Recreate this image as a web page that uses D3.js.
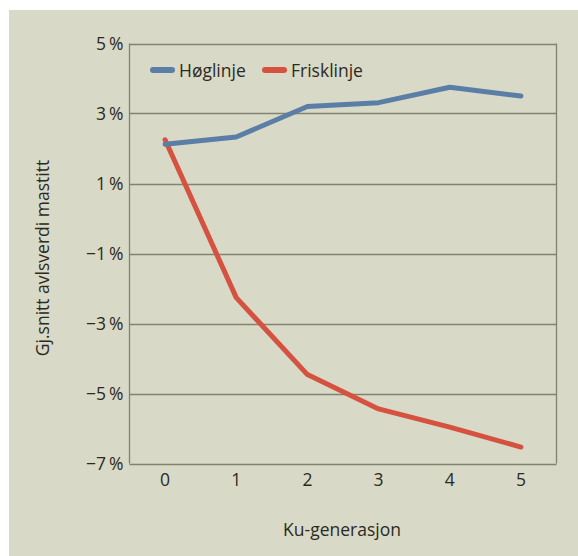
<!DOCTYPE html>
<html>
<head>
<meta charset="utf-8">
<script src="https://cdn.jsdelivr.net/npm/d3@7"></script>
<style>
  html, body { margin: 0; padding: 0; background: #ffffff; }
  svg text { font-family: "Open Sans", "Noto Sans", sans-serif; fill: #2b2a22; }
</style>
</head>
<body>
<div id="chart"></div>
<script>

//--- Data ------------------------------------------------------------------------------ //

var generations = [0, 1, 2, 3, 4, 5];
var hoeglinje   = [2.12, 2.33, 3.2, 3.31, 3.75, 3.5];
var frisklinje  = [2.25, -2.26, -4.46, -5.44, -5.96, -6.53];
var yTicks      = [5, 3, 1, -1, -3, -5, -7];
var seriesNames = ['Høglinje', 'Frisklinje'];
var seriesColors = ['#5a7ea6', '#d4523f'];


//--- Chart ------------------------------------------------------------------------------ //

function renderChart() {

    var width = 578, height = 556;
    var plot = { left: 129.5, right: 556.5, top: 43.5, bottom: 463.5 };
    var fs = 17.5;

    var svg = d3.select('#chart').append('svg')
        .attr('width', width)
        .attr('height', height);

    svg.append('rect')
        .attr('x', 9).attr('y', 10)
        .attr('width', width - 9).attr('height', height - 10)
        .attr('fill', '#d9d9c7');

    var x = d3.scaleLinear().domain([-0.5, 5.5]).range([plot.left, plot.right]);
    var y = d3.scaleLinear().domain([-7, 5]).range([plot.bottom, plot.top]);

    // gridlines
    svg.append('g').selectAll('line')
        .data(yTicks)
        .enter().append('line')
        .attr('x1', plot.left).attr('x2', plot.right)
        .attr('y1', function (d) { return Math.round(y(d)) + 0.5; })
        .attr('y2', function (d) { return Math.round(y(d)) + 0.5; })
        .attr('stroke', '#80836d')
        .attr('stroke-width', 1.3);

    // frame sides
    svg.append('line')
        .attr('x1', plot.left).attr('x2', plot.left)
        .attr('y1', plot.top).attr('y2', plot.bottom)
        .attr('stroke', '#80836d').attr('stroke-width', 1.3);
    svg.append('line')
        .attr('x1', plot.right).attr('x2', plot.right)
        .attr('y1', plot.top).attr('y2', plot.bottom)
        .attr('stroke', '#80836d').attr('stroke-width', 1.3);

    // y tick labels
    svg.append('g').selectAll('text')
        .data(yTicks)
        .enter().append('text')
        .attr('x', plot.left - 6)
        .attr('y', function (d) { return y(d) + 6; })
        .attr('text-anchor', 'end')
        .attr('font-size', fs)
        .text(function (d) { return (d < 0 ? '\u2212' + Math.abs(d) : d) + '\u2009%'; });

    // x tick labels
    svg.append('g').selectAll('text')
        .data(generations)
        .enter().append('text')
        .attr('x', function (d) { return x(d); })
        .attr('y', 486)
        .attr('text-anchor', 'middle')
        .attr('font-size', fs)
        .text(function (d) { return d; });

    // axis titles
    svg.append('text')
        .attr('x', 342).attr('y', 536)
        .attr('text-anchor', 'middle')
        .attr('font-size', fs)
        .text('Ku-generasjon');

    svg.append('text')
        .attr('transform', 'translate(49,258) rotate(-90)')
        .attr('text-anchor', 'middle')
        .attr('font-size', fs)
        .text('Gj.snitt avlsverdi mastitt');

    // lines (red under blue)
    var line = d3.line()
        .x(function (d, i) { return x(generations[i]); })
        .y(function (d) { return y(d); });

    var allSeries = [hoeglinje, frisklinje];
    [1, 0].forEach(function (s) {
        svg.append('path')
            .datum(allSeries[s])
            .attr('d', line)
            .attr('fill', 'none')
            .attr('stroke', seriesColors[s])
            .attr('stroke-width', 5)
            .attr('stroke-linejoin', 'round')
            .attr('stroke-linecap', 'round');
    });

    // legend
    var legendX = [153, 265];
    seriesNames.forEach(function (name, i) {
        svg.append('line')
            .attr('x1', legendX[i]).attr('x2', legendX[i] + 19)
            .attr('y1', 70).attr('y2', 70)
            .attr('stroke', seriesColors[i])
            .attr('stroke-width', 6)
            .attr('stroke-linecap', 'round');
        svg.append('text')
            .attr('x', legendX[i] + 26).attr('y', 76.5)
            .attr('font-size', fs)
            .text(name);
    });
}

renderChart();

</script>
</body>
</html>
